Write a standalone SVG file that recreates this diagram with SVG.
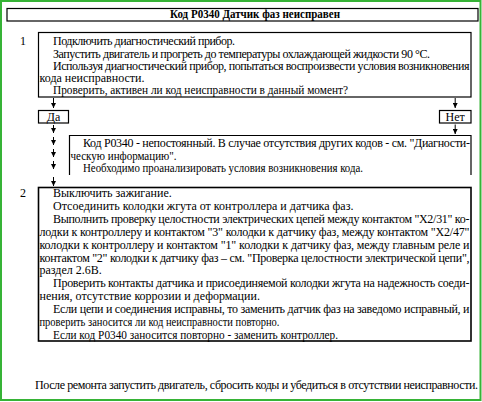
<svg xmlns="http://www.w3.org/2000/svg" width="482" height="402" viewBox="0 0 482 402">
<defs>
<style>
text{font-family:"Liberation Serif","Times New Roman",serif;font-size:12px;fill:#000}
.t{font-weight:bold}
.box{fill:#fff;stroke:#000;stroke-width:1.2}
.box2{fill:#fff;stroke:#000;stroke-width:1.6}
.arr{stroke:#000;stroke-width:1;fill:none;marker-end:url(#ah)}
.c{text-anchor:middle}
</style>
<marker id="ah" markerUnits="userSpaceOnUse" markerWidth="5" markerHeight="5" viewBox="0 0 5 5" refX="5" refY="2.5" orient="auto">
<path d="M0,0 L5,2.5 L0,5 Z" fill="#000"/>
</marker>
</defs>
<rect x="0" y="0" width="482" height="402" fill="#fff"/>
<rect x="1" y="1" width="479.5" height="399" fill="none" stroke="#36b336" stroke-width="2"/>

<g id="title">
<rect class="box" x="7" y="8.5" width="471" height="12.5"/>
<text class="t" x="170" y="18" textLength="170" lengthAdjust="spacingAndGlyphs">Код P0340 Датчик фаз неисправен</text>
</g>

<g id="step1">
<text x="20" y="45">1</text>
<rect class="box" x="38.5" y="32.5" width="432.5" height="64.5"/>
<text x="53" y="45" textLength="182">Подключить диагностический прибор.</text>
<text x="53" y="57.5" textLength="377">Запустить двигатель и прогреть до температуры охлаждающей жидкости 90 °C.</text>
<text x="53" y="69.5" textLength="416.5">Используя диагностический прибор, попытаться воспроизвести условия возникновения</text>
<text x="39.5" y="82">кода неисправности.</text>
<text x="53" y="94" textLength="295" lengthAdjust="spacingAndGlyphs">Проверить, активен ли код неисправности в данный момент?</text>
</g>

<g id="yes">
<rect class="box" x="38.5" y="110.5" width="30" height="12.5"/>
<text class="c" x="53.5" y="120.5">Да</text>
</g>

<g id="no">
<rect class="box" x="439.5" y="110.5" width="31.5" height="12.5"/>
<text class="c" x="455.2" y="120.5">Нет</text>
</g>

<g id="intermittent">
<path d="M69.5,175 V135.5 H471 V175" fill="#fff" stroke="#000" stroke-width="1.2"/>
<text x="83" y="146.5" textLength="387">Код P0340 - непостоянный. В случае отсутствия других кодов - см. "Диагности-</text>
<text x="70.5" y="159.5" textLength="106" lengthAdjust="spacingAndGlyphs">ческую информацию".</text>
<text x="83" y="171.5" textLength="280" lengthAdjust="spacingAndGlyphs">Необходимо проанализировать условия возникновения кода.</text>
</g>

<g id="step2">
<text x="20" y="197">2</text>
<rect class="box2" x="38.5" y="187.5" width="432.5" height="153.5"/>
<text x="53" y="197">Выключить зажигание.</text>
<text x="53" y="209.9">Отсоединить колодки жгута от контроллера и датчика фаз.</text>
<text x="53" y="222.8" textLength="416.5">Выполнить проверку целостности электрических цепей между контактом "X2/31" ко-</text>
<text x="39.5" y="235.7" textLength="430">лодки к контроллеру и контактом "3" колодки к датчику фаз, между контактом "X2/47"</text>
<text x="39.5" y="248.6" textLength="430">колодки к контроллеру и контактом "1" колодки к датчику фаз, между главным реле и</text>
<text x="39.5" y="261.5" textLength="430">контактом "2" колодки к датчику фаз – см. "Проверка целостности электрической цепи",</text>
<text x="39.5" y="274.4">раздел 2.6В.</text>
<text x="53" y="287.3" textLength="416.5">Проверить контакты датчика и присоединяемой колодки жгута на надежность соеди-</text>
<text x="39.5" y="300.2">нения, отсутствие коррозии и деформации.</text>
<text x="53" y="313.1" textLength="416.5">Если цепи и соединения исправны, то заменить датчик фаз на заведомо исправный, и</text>
<text x="39.5" y="326" textLength="240" lengthAdjust="spacingAndGlyphs">проверить заносится ли код неисправности повторно.</text>
<text x="53" y="338.9" textLength="285" lengthAdjust="spacingAndGlyphs">Если код P0340 заносится повторно - заменить контроллер.</text>
</g>

<g id="footer">
<text x="35" y="389" textLength="443">После ремонта запустить двигатель, сбросить коды и убедиться в отсутствии неисправности.</text>
</g>

<g id="connectors">
<line class="arr" x1="53.5" y1="98" x2="53.5" y2="108"/>
<line class="arr" x1="455.2" y1="98" x2="455.2" y2="108"/>
<line class="arr" x1="455.2" y1="124.5" x2="455.2" y2="134"/>
<line class="arr" x1="53.5" y1="125" x2="53.5" y2="133"/>
<line class="arr" x1="53.5" y1="137" x2="53.5" y2="145"/>
<line class="arr" x1="53.5" y1="149" x2="53.5" y2="157"/>
<line class="arr" x1="53.5" y1="161" x2="53.5" y2="169"/>
<line class="arr" x1="53.5" y1="177" x2="53.5" y2="186"/>
</g>
</svg>
